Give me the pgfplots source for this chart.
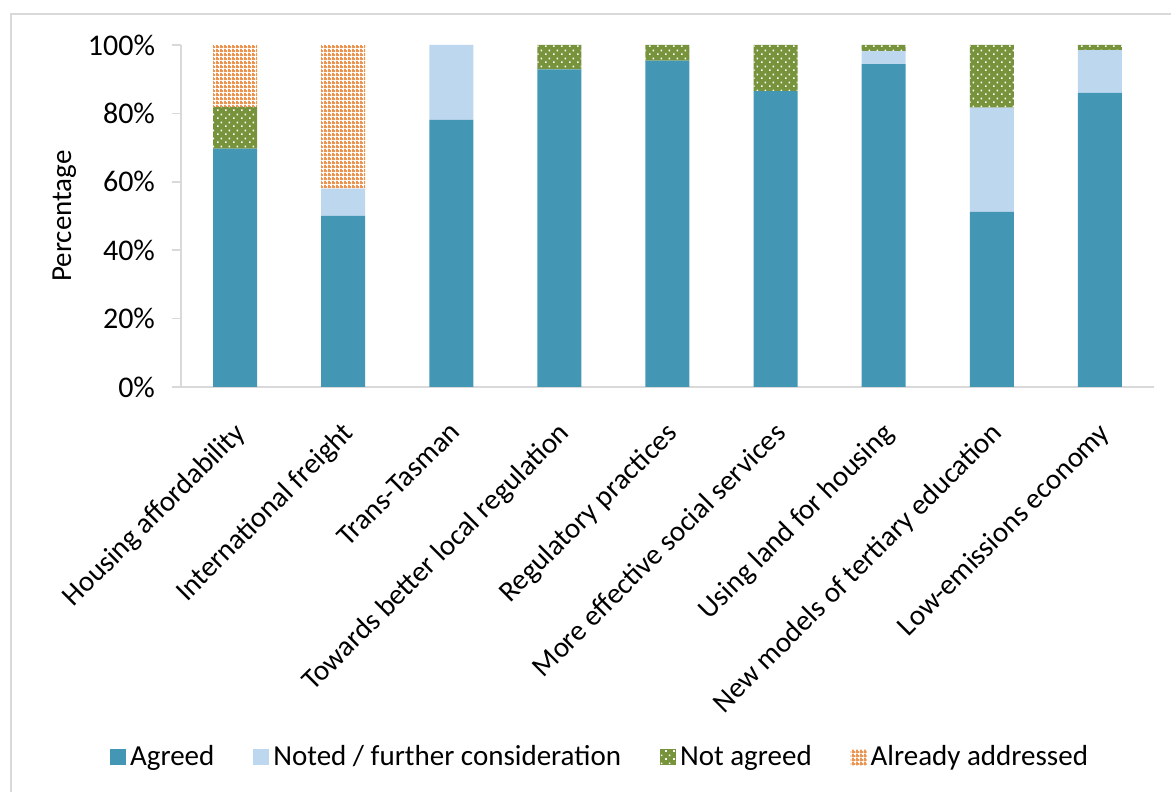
\documentclass[border=0pt]{standalone}
\usepackage{pgfplots}
\pgfplotsset{compat=1.18}
\usepackage{fontspec}
\setmainfont{Carlito}
\usetikzlibrary{patterns}
\definecolor{agreed}{HTML}{4397B4}
\definecolor{noted}{HTML}{BDD7EE}
\definecolor{notagreed}{HTML}{77933C}
\definecolor{already}{HTML}{EC9550}
\definecolor{axisgray}{HTML}{D9D9D9}
\pgfdeclarepatternformonly{greendots}{\pgfpointorigin}{\pgfpoint{4pt}{4pt}}{\pgfpoint{4pt}{4pt}}{%
 \pgfpathrectangle{\pgfpoint{0.6pt}{0.6pt}}{\pgfpoint{0.9pt}{0.9pt}}%
 \pgfpathrectangle{\pgfpoint{2.6pt}{2.6pt}}{\pgfpoint{0.9pt}{0.9pt}}%
 \pgfusepath{fill}}
\pgfdeclarepatternformonly{orangegrid}{\pgfpointorigin}{\pgfpoint{2pt}{2pt}}{\pgfpoint{2pt}{2pt}}{%
 \pgfpathrectangle{\pgfpointorigin}{\pgfpoint{2pt}{1.1pt}}%
 \pgfpathrectangle{\pgfpointorigin}{\pgfpoint{1.1pt}{2pt}}%
 \pgfusepath{fill}}
\newcommand{\chartfont}{\fontsize{14.5}{17}\selectfont}
\newcommand{\tickfont}{\fontsize{15}{18}\selectfont}
\begin{document}
\begin{tikzpicture}[x=1pt,y=1pt]
\useasboundingbox (0,0) rectangle (585.5,396);
\draw[axisgray, line width=1pt] (5.5,0) -- (5.5,389) -- (585.5,389);
\begin{axis}[
  at={(90.5pt,202.5pt)}, anchor=south west,
  scale only axis, width=486.5pt, height=171pt,
  ybar stacked, bar width=22pt,
  xmin=-0.5, xmax=8.5, ymin=0, ymax=100,
  xtick={0,1,2,3,4,5,6,7,8},
  xticklabels={Housing affordability, International freight, Trans-Tasman, Towards better local regulation, Regulatory practices, More effective social services, Using land for housing, New models of tertiary education, Low-emissions economy},
  x tick label style={rotate=45, anchor=north east, font=\chartfont, inner sep=1pt, xshift=-8.5pt, yshift=-6.5pt},
  ytick={0,20,40,60,80,100},
  yticklabel={\pgfmathprintnumber{\tick}\%},
  /pgf/number format/assume math mode=true,
  y tick label style={font=\tickfont, xshift=-5pt},
  axis x line*=bottom, axis y line*=left,
  x axis line style={axisgray, line width=1pt},
  y axis line style={axisgray, line width=1pt},
  ytick style={axisgray, line width=0.8pt},
  xtick style={draw=none},
  tick align=outside, major tick length=4.5pt,
  ylabel={Percentage},
  ylabel style={at={(rel axis cs:-0.12,0.5)}, anchor=center, font=\chartfont},
  legend style={at={(0.4317,-1.082)}, anchor=center, legend columns=4, draw=none, font=\chartfont,
    /tikz/every even column/.append style={column sep=17.5pt}},
  legend image code/.code={\path[#1] (0pt,-4pt) rectangle (8pt,4pt);},
]
\addplot[fill=agreed, draw=none] coordinates {(0,69.7) (1,50) (2,78.1) (3,92.9) (4,95.4) (5,86.5) (6,94.4) (7,51.2) (8,86)};
\addplot[fill=noted, draw=none] coordinates {(0,0) (1,8) (2,21.9) (3,0) (4,0) (5,0) (6,3.8) (7,30.5) (8,12.5)};
\addplot[fill=notagreed, draw=none, postaction={pattern=greendots, pattern color=white}] coordinates {(0,12.1) (1,0) (2,0) (3,7.1) (4,4.6) (5,13.5) (6,1.8) (7,18.3) (8,1.5)};
\addplot[fill=white, draw=none, postaction={pattern=orangegrid, pattern color=already}] coordinates {(0,18.2) (1,42) (2,0) (3,0) (4,0) (5,0) (6,0) (7,0) (8,0)};
\legend{Agreed, Noted / further consideration, Not agreed, Already addressed}
\end{axis}
\end{tikzpicture}
\end{document}
